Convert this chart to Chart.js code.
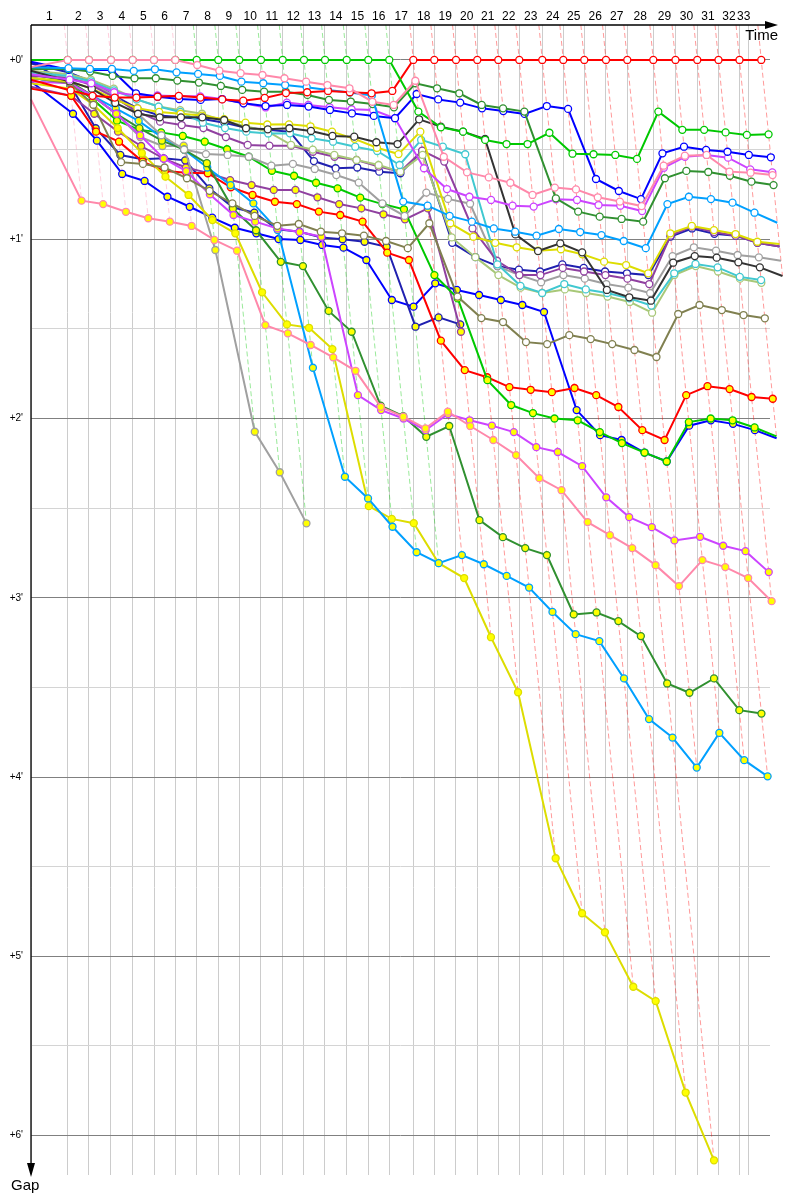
<!DOCTYPE html>
<html>
<head>
<meta charset="utf-8">
<script src="https://cdn.jsdelivr.net/npm/chart.js@4/dist/chart.umd.min.js"></script>
<style>
body { margin: 0; background: #fff; }
</style>
</head>
<body>
<canvas id="gapChart" width="800" height="1200"></canvas>
<script>
// Leader's time at the end of each lap (minutes from the start), lap 0..33
var lapTimes = [0, 2.085, 3.295, 4.545, 5.778, 6.989, 8.199, 9.415, 10.642, 11.835,
    13.068, 14.301, 15.511, 16.705, 17.938, 19.165, 20.358, 21.722, 22.915, 24.148,
    25.358, 26.551, 27.744, 29.051, 30.244, 31.438, 32.670, 33.881, 35.358, 36.619,
    37.858, 39.063, 40.256, 41.494];
var timeLimit = 40.74;
var lapLabels = ['1', '2', '3', '4', '5', '6', '7', '8', '9', '10', '11', '12', '13', '14', '15', '16',
    '17', '18', '19', '20', '21', '22', '23', '24', '25', '26', '27', '28', '29', '30', '31', '32', '33'];
var gapTicks = [0, 1, 2, 3, 4, 5, 6];

// Gap to the leader (minutes) at the end of each lap, lap 0..last lap
// white markers
var gapPink = [0.04, 0, 0, 0, 0, 0, 0, 0.028, 0.06, 0.074, 0.084, 0.102, 0.121, 0.14, 0.158, 0.233, 0.251, 0.116, 0.54, 0.627, 0.655, 0.685, 0.753, 0.712, 0.722, 0.766, 0.79, 0.815, 0.59, 0.534, 0.53, 0.623, 0.629, 0.642];
var gapGreen = [0, 0, 0, 0, 0, 0, 0, 0, 0, 0, 0, 0, 0, 0, 0, 0, 0, 0.288, 0.376, 0.40, 0.446, 0.469, 0.469, 0.406, 0.523, 0.526, 0.53, 0.552, 0.288, 0.39, 0.39, 0.404, 0.418, 0.415];
var gapRed = [0.11, 0.17, 0.2, 0.21, 0.21, 0.205, 0.2, 0.21, 0.22, 0.227, 0.212, 0.185, 0.18, 0.173, 0.18, 0.186, 0.173, 0, 0, 0, 0, 0, 0, 0, 0, 0, 0, 0, 0, 0, 0, 0, 0, 0];
var gapLightBlue = [0.04, 0.046, 0.05, 0.05, 0.061, 0.052, 0.069, 0.078, 0.089, 0.121, 0.13, 0.14, 0.152, 0.167, 0.182, 0.199, 0.79, 0.813, 0.87, 0.902, 0.94, 0.958, 0.98, 0.943, 0.96, 0.977, 1.01, 1.05, 0.804, 0.763, 0.776, 0.796, 0.852, 0.908];
var gapDarkGreen = [0.05, 0.05, 0.065, 0.089, 0.102, 0.102, 0.115, 0.126, 0.145, 0.167, 0.177, 0.177, 0.195, 0.223, 0.232, 0.246, 0.264, 0.13, 0.158, 0.186, 0.251, 0.27, 0.288, 0.772, 0.846, 0.874, 0.887, 0.902, 0.66, 0.619, 0.625, 0.646, 0.679, 0.698];
var gapBlue = [0.01, 0.055, 0.056, 0.056, 0.186, 0.205, 0.218, 0.223, 0.218, 0.242, 0.257, 0.251, 0.26, 0.279, 0.298, 0.312, 0.325, 0.19, 0.22, 0.238, 0.27, 0.285, 0.301, 0.257, 0.273, 0.664, 0.731, 0.776, 0.521, 0.484, 0.502, 0.512, 0.53, 0.543];
var gapMagenta = [0.08, 0.11, 0.13, 0.18, 0.198, 0.198, 0.203, 0.203, 0.218, 0.242, 0.265, 0.238, 0.251, 0.264, 0.275, 0.279, 0.325, 0.604, 0.72, 0.763, 0.781, 0.813, 0.818, 0.777, 0.781, 0.809, 0.813, 0.843, 0.601, 0.54, 0.53, 0.545, 0.61, 0.627];
var gapBlack = [0.06, 0.12, 0.16, 0.24, 0.3, 0.32, 0.32, 0.32, 0.335, 0.381, 0.387, 0.381, 0.396, 0.424, 0.428, 0.459, 0.469, 0.331, 0.372, 0.40, 0.441, 0.973, 1.066, 1.023, 1.073, 1.283, 1.324, 1.343, 1.131, 1.094, 1.103, 1.129, 1.157, 1.205];
var gapYellow = [0.1, 0.12, 0.16, 0.22, 0.27, 0.29, 0.3, 0.31, 0.33, 0.35, 0.36, 0.359, 0.37, 0.40, 0.44, 0.49, 0.525, 0.40, 0.911, 0.986, 1.02, 1.045, 1.064, 1.056, 1.084, 1.125, 1.144, 1.19, 0.967, 0.926, 0.949, 0.971, 1.014, 1.027];
var gapCyan = [0.07, 0.09, 0.12, 0.17, 0.22, 0.26, 0.29, 0.35, 0.38, 0.40, 0.41, 0.409, 0.437, 0.456, 0.484, 0.508, 0.586, 0.446, 0.484, 0.526, 1.14, 1.26, 1.3, 1.25, 1.28, 1.3, 1.33, 1.37, 1.19, 1.138, 1.157, 1.21, 1.228];
var gapLightOlive = [0.06, 0.08, 0.11, 0.16, 0.22, 0.26, 0.28, 0.30, 0.34, 0.37, 0.40, 0.474, 0.5, 0.53, 0.558, 0.586, 0.623, 0.53, 0.99, 1.1, 1.2, 1.27, 1.3, 1.28, 1.3, 1.32, 1.35, 1.41, 1.2, 1.15, 1.18, 1.22, 1.243];
var gapPurple = [0.09, 0.1, 0.14, 0.21, 0.29, 0.344, 0.363, 0.38, 0.43, 0.474, 0.478, 0.478, 0.512, 0.54, 0.558, 0.595, 0.623, 0.506, 0.567, 0.94, 1.12, 1.2, 1.2, 1.16, 1.18, 1.2, 1.22, 1.25, 0.98, 0.93, 0.96, 0.98, 1.02, 1.04];
var gapGray = [0.08, 0.1, 0.13, 0.2, 0.3, 0.42, 0.5, 0.525, 0.53, 0.54, 0.59, 0.58, 0.608, 0.642, 0.684, 0.80, 0.87, 0.74, 0.775, 0.802, 1.15, 1.2, 1.24, 1.2, 1.22, 1.25, 1.27, 1.3, 1.094, 1.045, 1.064, 1.088, 1.101, 1.12];
var gapOlive = [0.1, 0.13, 0.25, 0.57, 0.58, 0.6, 0.66, 0.73, 0.8, 0.87, 0.925, 0.915, 0.958, 0.967, 0.98, 1.01, 1.05, 0.911, 1.32, 1.44, 1.462, 1.574, 1.585, 1.535, 1.557, 1.585, 1.618, 1.657, 1.417, 1.367, 1.395, 1.423, 1.441];
var gapNavy = [0.02, 0.07, 0.12, 0.2, 0.27, 0.31, 0.32, 0.33, 0.35, 0.378, 0.39, 0.40, 0.564, 0.604, 0.6, 0.623, 0.632, 0.508, 1.02, 1.1, 1.15, 1.17, 1.18, 1.14, 1.16, 1.18, 1.19, 1.2, 0.985, 0.94, 0.97, 0.98, 1.02, 1.04];
// yellow markers
var gapPinkB = [0.22, 0.785, 0.804, 0.847, 0.883, 0.902, 0.926, 1.004, 1.064, 1.479, 1.525, 1.59, 1.659, 1.734, 1.935, 1.99, 2.055, 1.962, 2.042, 2.12, 2.204, 2.333, 2.4, 2.578, 2.651, 2.723, 2.818, 2.935, 2.79, 2.829, 2.89, 3.019];
var gapMagentaB = [0.12, 0.13, 0.2, 0.3, 0.42, 0.55, 0.62, 0.75, 0.865, 0.902, 0.94, 0.96, 0.986, 1.87, 1.953, 2.0, 2.065, 1.975, 2.01, 2.04, 2.076, 2.16, 2.187, 2.266, 2.44, 2.55, 2.606, 2.68, 2.66, 2.71, 2.74, 2.857];
var gapDarkGreenB = [0.08, 0.12, 0.2, 0.3, 0.38, 0.45, 0.5, 0.576, 0.83, 0.95, 1.126, 1.15, 1.4, 1.516, 1.929, 1.987, 2.102, 2.042, 2.567, 2.662, 2.723, 2.762, 3.093, 3.082, 3.13, 3.214, 3.478, 3.53, 3.45, 3.627, 3.646];
var gapLightBlueB = [0.1, 0.13, 0.2, 0.27, 0.34, 0.43, 0.5, 0.6, 0.698, 0.8, 0.949, 1.717, 2.325, 2.446, 2.604, 2.746, 2.807, 2.762, 2.813, 2.878, 2.943, 3.079, 3.203, 3.242, 3.45, 3.677, 3.78, 3.947, 3.754, 3.906, 3.996];
var gapYellowB = [0.13, 0.16, 0.25, 0.38, 0.52, 0.651, 0.753, 0.893, 0.967, 1.296, 1.475, 1.494, 1.613, 2.489, 2.56, 2.584, 2.807, 2.89, 3.22, 3.527, 4.453, 4.76, 4.866, 5.17, 5.25, 5.76, 6.138];
var gapGrayB = [0.1, 0.13, 0.2, 0.3, 0.43, 0.48, 0.478, 1.06, 2.074, 2.30, 2.585];
var gapGreenB = [0.1, 0.13, 0.22, 0.339, 0.39, 0.404, 0.424, 0.456, 0.498, 0.54, 0.618, 0.646, 0.685, 0.716, 0.768, 0.804, 0.833, 1.2, 1.33, 1.786, 1.925, 1.97, 2.0, 2.01, 2.076, 2.137, 2.19, 2.24, 2.02, 2.0, 2.01, 2.05, 2.1];
var gapRedB = [0.16, 0.2, 0.4, 0.456, 0.567, 0.62, 0.629, 0.632, 0.71, 0.753, 0.791, 0.804, 0.846, 0.865, 0.902, 1.075, 1.116, 1.566, 1.73, 1.77, 1.825, 1.84, 1.853, 1.83, 1.87, 1.936, 2.065, 2.12, 1.87, 1.82, 1.836, 1.88, 1.89];
var gapPurpleB = [0.15, 0.2, 0.3, 0.4, 0.48, 0.55, 0.6, 0.63, 0.67, 0.698, 0.725, 0.725, 0.766, 0.804, 0.828, 0.861, 0.889, 0.828, 1.516];
var gapNavyB = [0.01, 0.14, 0.381, 0.53, 0.554, 0.549, 0.56, 0.716, 0.822, 0.852, 0.945, 0.958, 0.99, 1.0, 1.014, 1.042, 1.488, 1.436, 1.475];
var gapBlueB = [0.12, 0.3, 0.45, 0.636, 0.675, 0.763, 0.819, 0.88, 0.936, 0.967, 0.999, 1.004, 1.032, 1.047, 1.116, 1.339, 1.376, 1.246, 1.283, 1.311, 1.339, 1.367, 1.406, 1.953, 2.093, 2.12, 2.19, 2.24, 2.04, 2.01, 2.03, 2.065, 2.11];

var Y = '#ffff00', W = '#ffffff';
// pink listed first: it shares the lead with green on laps 1-6
var cars = [
    [gapPink, '#ff88aa', W], [gapGreen, '#00c800', W], [gapRed, '#ff0000', W],
    [gapLightBlue, '#00a0ff', W], [gapDarkGreen, '#309030', W], [gapBlue, '#0000ff', W],
    [gapMagenta, '#cc44ff', W], [gapBlack, '#333333', W], [gapYellow, '#dddd00', W],
    [gapCyan, '#40c8d0', W], [gapLightOlive, '#a8c878', W], [gapPurple, '#9040a0', W],
    [gapGray, '#a0a0a0', W], [gapOlive, '#808050', W], [gapNavy, '#2020b0', W],
    [gapPinkB, '#ff88aa', Y], [gapMagentaB, '#cc44ff', Y], [gapDarkGreenB, '#309030', Y],
    [gapLightBlueB, '#00a0ff', Y], [gapYellowB, '#dddd00', Y], [gapGrayB, '#a0a0a0', Y],
    [gapGreenB, '#00c800', Y], [gapRedB, '#ff0000', Y], [gapPurpleB, '#9040a0', Y],
    [gapNavyB, '#2020b0', Y], [gapBlueB, '#0000ff', Y]
];

var yMin = -0.195, yMax = 6.22;
var gridTimes = lapTimes.slice(0, 33).concat([timeLimit]);

function fade(hex, a) {
    var n = parseInt(hex.slice(1), 16);
    return 'rgba(' + (n >> 16) + ',' + ((n >> 8) & 255) + ',' + (n & 255) + ',' + a + ')';
}

var datasets = [];

// one dashed line per lap through every car's point of that lap
for (var k = 1; k < lapTimes.length; k++) {
    var maxGap = 0, best = null;
    cars.forEach(function (c) {
        if (c[0].length > k) {
            if (best === null || c[0][k] < best[0][k]) best = c;
            maxGap = Math.max(maxGap, c[0][k]);
        }
    });
    datasets.push({
        data: [{ x: lapTimes[k] + yMin, y: yMin }, { x: lapTimes[k] + maxGap, y: maxGap }],
        showLine: true,
        borderColor: fade(best[1], 0.4),
        borderWidth: 1,
        borderDash: [5, 3],
        pointRadius: 0,
        order: 10,
        clip: false
    });
}

cars.forEach(function (c) {
    datasets.push({
        data: c[0].map(function (g, i) {
            return { x: i === 0 ? 0 : lapTimes[i] + g, y: g };
        }),
        showLine: true,
        borderColor: c[1],
        borderWidth: 2,
        pointBackgroundColor: c[2],
        pointBorderColor: c[1],
        pointBorderWidth: 1.3,
        pointRadius: function (ctx) { return ctx.dataIndex === 0 ? 0 : 3.5; },
        order: 1,
        clip: false
    });
});

var axesPlugin = {
    id: 'axesPlugin',
    afterDraw: function (chart) {
        var ctx = chart.ctx, a = chart.chartArea;
        var xs = chart.scales.x, ys = chart.scales.y;
        ctx.save();
        ctx.fillStyle = '#000';
        ctx.textBaseline = 'middle';
        ctx.textAlign = 'center';
        ctx.font = '12px "Liberation Sans", Arial, sans-serif';
        for (var i = 1; i < gridTimes.length; i++) {
            var mid = (gridTimes[i - 1] + gridTimes[i]) / 2;
            ctx.fillText(lapLabels[i - 1], xs.getPixelForValue(mid), 17);
        }
        ctx.textAlign = 'right';
        ctx.font = '10px "Liberation Sans", Arial, sans-serif';
        gapTicks.forEach(function (v) {
            ctx.fillText('+' + v + "'", 23, ys.getPixelForValue(v));
        });

        ctx.strokeStyle = '#000';
        ctx.lineWidth = 1.3;
        ctx.beginPath();
        ctx.moveTo(a.left, a.top);
        ctx.lineTo(a.right + 2, a.top);
        ctx.moveTo(a.left, a.top);
        ctx.lineTo(a.left, a.bottom - 6);
        ctx.stroke();
        ctx.beginPath();
        ctx.moveTo(a.right + 8, a.top);
        ctx.lineTo(a.right - 5, a.top - 4);
        ctx.lineTo(a.right - 5, a.top + 4);
        ctx.closePath();
        ctx.moveTo(a.left, a.bottom + 2);
        ctx.lineTo(a.left - 4, a.bottom - 12);
        ctx.lineTo(a.left + 4, a.bottom - 12);
        ctx.closePath();
        ctx.fill();

        ctx.font = '15px "Liberation Sans", Arial, sans-serif';
        ctx.textAlign = 'right';
        ctx.fillText('Time', a.right + 8, a.top + 11);
        ctx.textAlign = 'left';
        ctx.fillText('Gap', 11, a.bottom + 11);
        ctx.restore();
    }
};

var chart = new Chart(document.getElementById('gapChart').getContext('2d'), {
    type: 'scatter',
    data: { datasets: datasets },
    options: {
        responsive: false,
        animation: false,
        events: [],
        layout: { padding: { left: 31, right: 30, top: 25, bottom: 25 } },
        elements: { line: { tension: 0 } },
        plugins: { legend: { display: false }, tooltip: { enabled: false } },
        scales: {
            x: {
                type: 'linear',
                min: 0,
                max: 41.99,
                afterBuildTicks: function (s) {
                    s.ticks = gridTimes.map(function (v) { return { value: v }; });
                },
                ticks: { display: false },
                border: { display: false },
                grid: { color: '#cccccc', lineWidth: 1, drawTicks: false }
            },
            y: {
                type: 'linear',
                reverse: true,
                min: yMin,
                max: yMax,
                afterBuildTicks: function (s) {
                    var t = [];
                    for (var v = 0; v <= 6; v += 0.5) t.push({ value: v });
                    s.ticks = t;
                },
                ticks: { display: false },
                border: { display: false },
                grid: {
                    color: function (c) { return c.tick.value % 1 === 0 ? '#808080' : '#d4d4d4'; },
                    lineWidth: 1,
                    drawTicks: false
                }
            }
        }
    },
    plugins: [axesPlugin]
});
</script>
</body>
</html>
